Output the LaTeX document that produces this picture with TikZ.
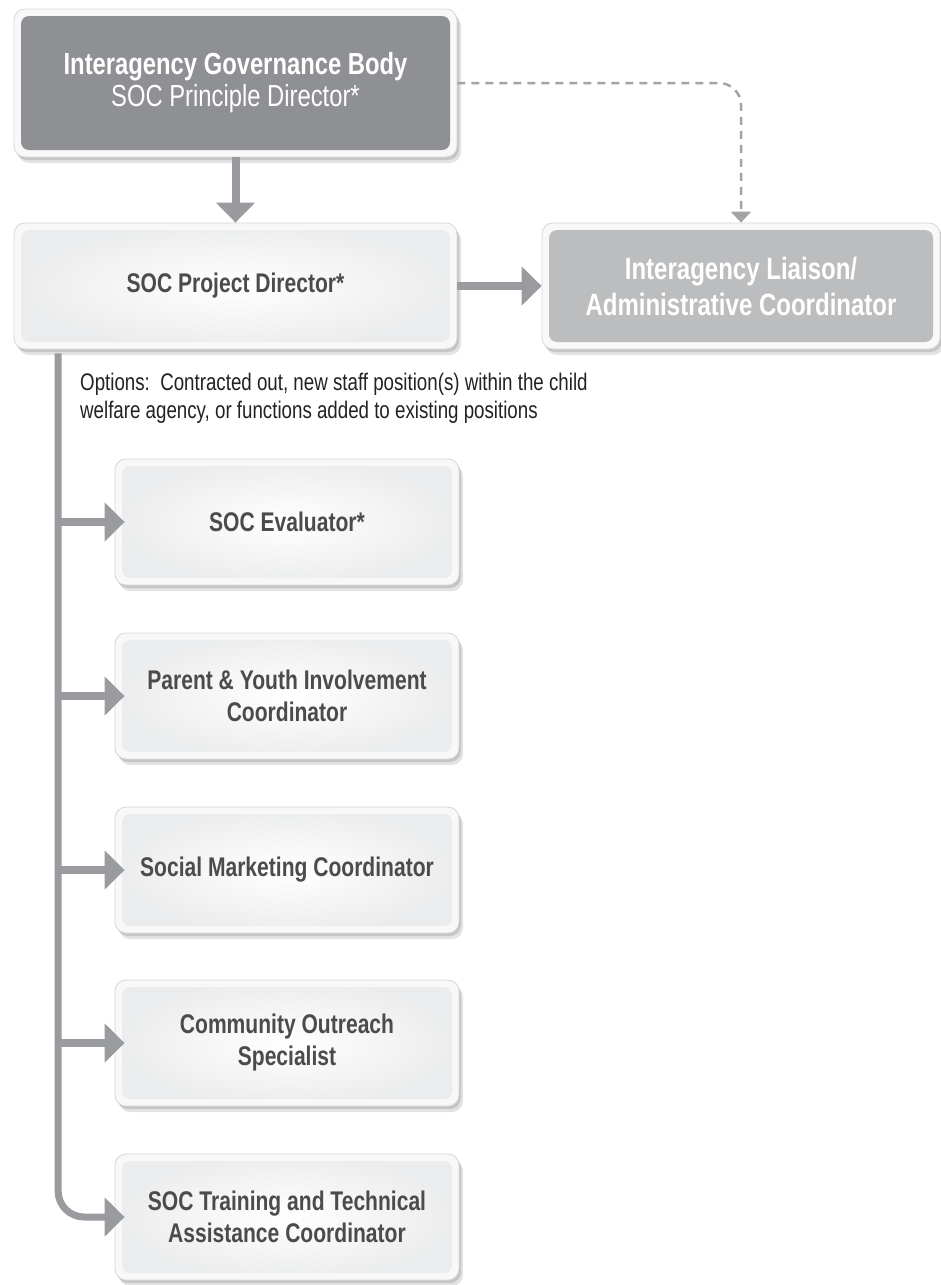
\documentclass[tikz,border=0pt]{standalone}
\usepackage{fontspec}
\setmainfont{Liberation Sans}[FakeStretch=0.78]
\usetikzlibrary{arrows.meta,shadows}
\definecolor{topfill}{HTML}{8F9094}
\definecolor{lifill}{HTML}{BCBDBF}
\definecolor{arrowcol}{HTML}{9A9B9E}
\definecolor{dashcol}{HTML}{A3A4A7}
\definecolor{childtext}{HTML}{4B4B4D}
\definecolor{childedge}{HTML}{EBECED}
\definecolor{framefill}{HTML}{F8F8F8}
\definecolor{frameedge}{HTML}{D6D6D8}
\definecolor{opttext}{HTML}{222222}
\begin{document}
\begin{tikzpicture}[x=1pt,y=-1pt,
  boxbase/.style={rounded corners=11pt, fill=framefill, draw=frameedge, line width=0.8pt,
    drop shadow={shadow xshift=4pt, shadow yshift=-6pt, fill=black!50, opacity=0.22},
    drop shadow={shadow xshift=2pt, shadow yshift=-3pt, fill=black!50, opacity=0.3},
    inner sep=0pt, align=center},
  darkbox/.style={boxbase, text=white,
    path picture={\fill[topfill, rounded corners=8pt]
      ([shift={(7pt,-7pt)}]path picture bounding box.north west) rectangle
      ([shift={(-7pt,7pt)}]path picture bounding box.south east);}},
  libox/.style={boxbase, text=white,
    path picture={\fill[lifill, rounded corners=8pt]
      ([shift={(7pt,-7pt)}]path picture bounding box.north west) rectangle
      ([shift={(-7pt,7pt)}]path picture bounding box.south east);}},
  lightbox/.style={boxbase, text=childtext,
    path picture={\shade[inner color=white, outer color=childedge, rounded corners=8pt]
      ([shift={(7pt,-7pt)}]path picture bounding box.north west) rectangle
      ([shift={(-7pt,7pt)}]path picture bounding box.south east);}},
  childbox/.style={lightbox, minimum width=344pt, minimum height=126pt,
    font=\fontsize{27}{32}\selectfont\bfseries},
  arr/.style={draw=arrowcol, line width=8pt, -{Triangle[width=38pt,length=20pt]}},
  dasharr/.style={draw=dashcol, line width=2.5pt, dash pattern=on 8pt off 6pt,
    rounded corners=22pt, -{Triangle[width=20pt,length=11pt]}},
  bararr/.style={draw=arrowcol, line width=7pt, rounded corners=26pt,
    -{Triangle[width=38pt,length=20pt]}}
]
\useasboundingbox (0,0) rectangle (941,1285);

\node[darkbox, minimum width=443pt, minimum height=148pt,
  font=\fontsize{30.5}{32}\selectfont] (gov) at (235.5,83)
  {\bfseries Interagency Governance Body\\SOC Principle Director*};

\node[lightbox, minimum width=443pt, minimum height=126pt,
  font=\fontsize{27}{32}\selectfont\bfseries] (pd) at (235.5,286)
  {SOC Project Director*};

\node[libox, minimum width=398pt, minimum height=126pt,
  font=\fontsize{30.8}{36}\selectfont\bfseries] (li) at (741,286)
  {Interagency Liaison/\\Administrative Coordinator};

\node[anchor=north west, inner sep=0pt, align=left, text=opttext,
  font=\fontsize{24}{28}\selectfont] (opt) at (80,373)
  {Options:\ \ Contracted out, new staff position(s) within the child\\welfare agency, or functions added to existing positions};

\node[childbox] (c1) at (287,522) {SOC Evaluator*};
\node[childbox] (c2) at (287,696) {Parent \& Youth Involvement\\Coordinator};
\node[childbox] (c3) at (287,870) {Social Marketing Coordinator};
\node[childbox] (c4) at (287,1043) {Community Outreach\\Specialist};
\node[childbox] (c5) at (287,1217) {SOC Training and Technical\\Assistance Coordinator};

\draw[arr] (gov.south) -- (pd.north);
\draw[arr] (pd.east) -- (li.west);
\draw[dasharr] (gov.east) -| (li.north);

\coordinate (bartop) at ([xshift=44.5pt,yshift=-4pt]pd.south west);
\draw[bararr, shorten >=-10pt] (bartop) |- (c5.west);
\draw[arr, shorten >=-10pt] (bartop |- c1.west) -- (c1.west);
\draw[arr, shorten >=-10pt] (bartop |- c2.west) -- (c2.west);
\draw[arr, shorten >=-10pt] (bartop |- c3.west) -- (c3.west);
\draw[arr, shorten >=-10pt] (bartop |- c4.west) -- (c4.west);
\end{tikzpicture}
\end{document}
